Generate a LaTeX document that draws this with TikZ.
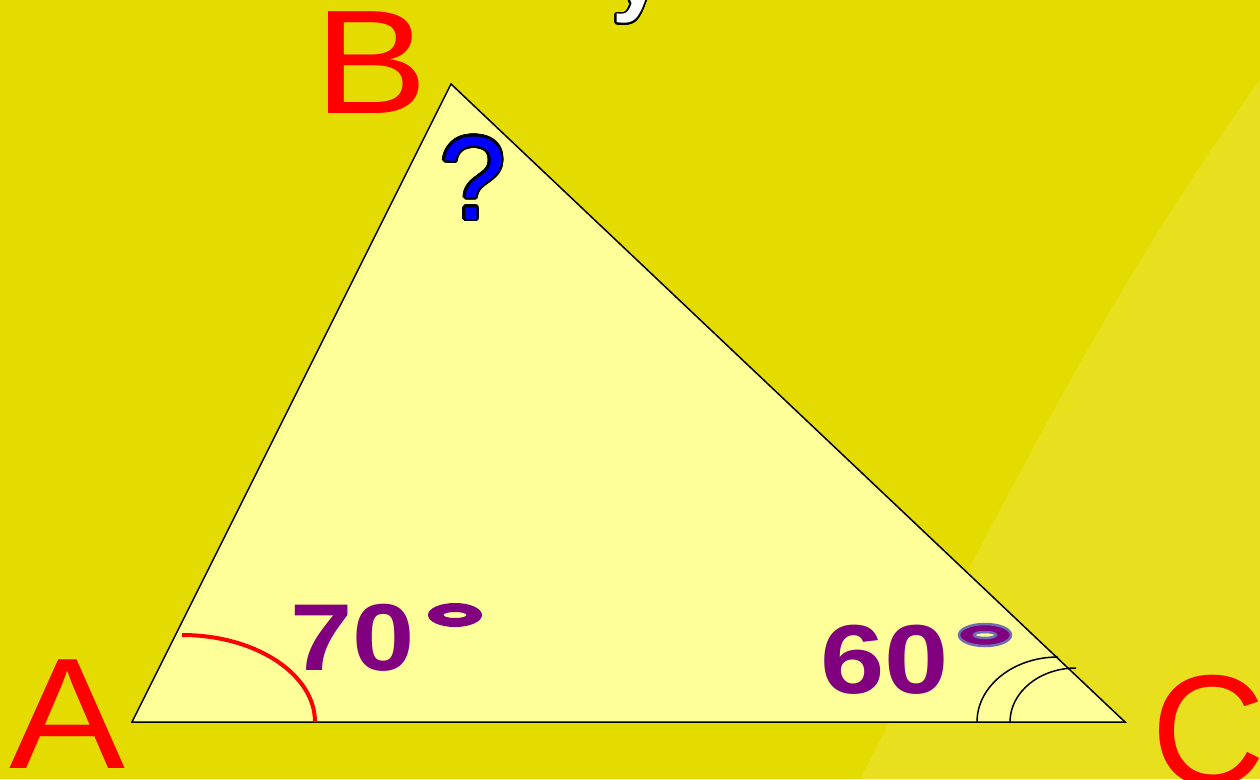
\documentclass[tikz,border=0pt]{standalone}
\usepackage{fontspec}
\setmainfont{Liberation Sans}
\usepackage{contour}
\contournumber{24}
\definecolor{bgyellow}{RGB}{228,220,0}
\definecolor{bglight}{RGB}{232,224,30}
\definecolor{trifill}{RGB}{255,255,153}
\definecolor{labpurple}{RGB}{128,0,128}
\definecolor{ringblue}{RGB}{110,110,176}
\begin{document}
\begin{tikzpicture}[x=1pt,y=-1pt,
  vertexlabel/.style={text=red,inner sep=0pt,anchor=base west},
  anglelabel/.style={text=labpurple,inner sep=0pt,anchor=base west,xscale=1.18,font=\bfseries},
  arcline/.style={line width=1.5pt,black}]
\useasboundingbox (0,0) rectangle (1260,779);
\clip (0,0) rectangle (1260,779);
\fill[bgyellow] (0,0) rectangle (1260,779);
\fill[bglight] (1260,80) .. controls (1100,300) and (980,550) .. (860,779) -- (1260,779) -- cycle;
% partial white letter at top
\node[inner sep=0pt,anchor=base west] (ytop) at (612,5) {\fontsize{90}{90}\selectfont\bfseries\contourlength{1.6pt}\contour{black}{\textcolor{white}{y}}};
% triangle
\coordinate (A) at (132,722);
\coordinate (B) at (451,84);
\coordinate (C) at (1125,722);
\filldraw[fill=trifill,draw=black,line width=1.5pt,line join=miter] (A) -- (B) -- (C) -- cycle;
% angle arcs
\draw[red,line width=4pt] (182,635) arc[start angle=-90,end angle=0,x radius=133,y radius=87];
\draw[arcline] (977,722) arc[start angle=180,end angle=270,x radius=81,y radius=65];
\draw[arcline] (1010,722) arc[start angle=180,end angle=270,x radius=66,y radius=54];
% vertex labels
\node[vertexlabel,xscale=1.1] (la) at (9,768) {\fontsize{158}{158}\selectfont A};
\node[vertexlabel,xscale=1.15] (lb) at (314,113) {\fontsize{148}{148}\selectfont B};
\node[vertexlabel] (lc) at (1151,785) {\fontsize{158}{158}\selectfont C};
% question mark
\node[inner sep=0pt,anchor=base west] (q) at (440,219) {\fontsize{118}{118}\selectfont\contourlength{2.4pt}\contour{black}{\textcolor{blue}{?}}};
% angle values
\node[anglelabel] (l70) at (290,670) {\fontsize{95}{95}\selectfont 70};
\fill[labpurple,even odd rule] (455,615) ellipse[x radius=27,y radius=12] (455,615) ellipse[x radius=11.5,y radius=3];
\node[anglelabel] (l60) at (820,693) {\fontsize{98}{98}\selectfont 60};
\filldraw[fill=labpurple,draw=ringblue,line width=2.5pt,even odd rule] (985,635) ellipse[x radius=26,y radius=11] (985,635) ellipse[x radius=11,y radius=3];
\end{tikzpicture}
\end{document}
